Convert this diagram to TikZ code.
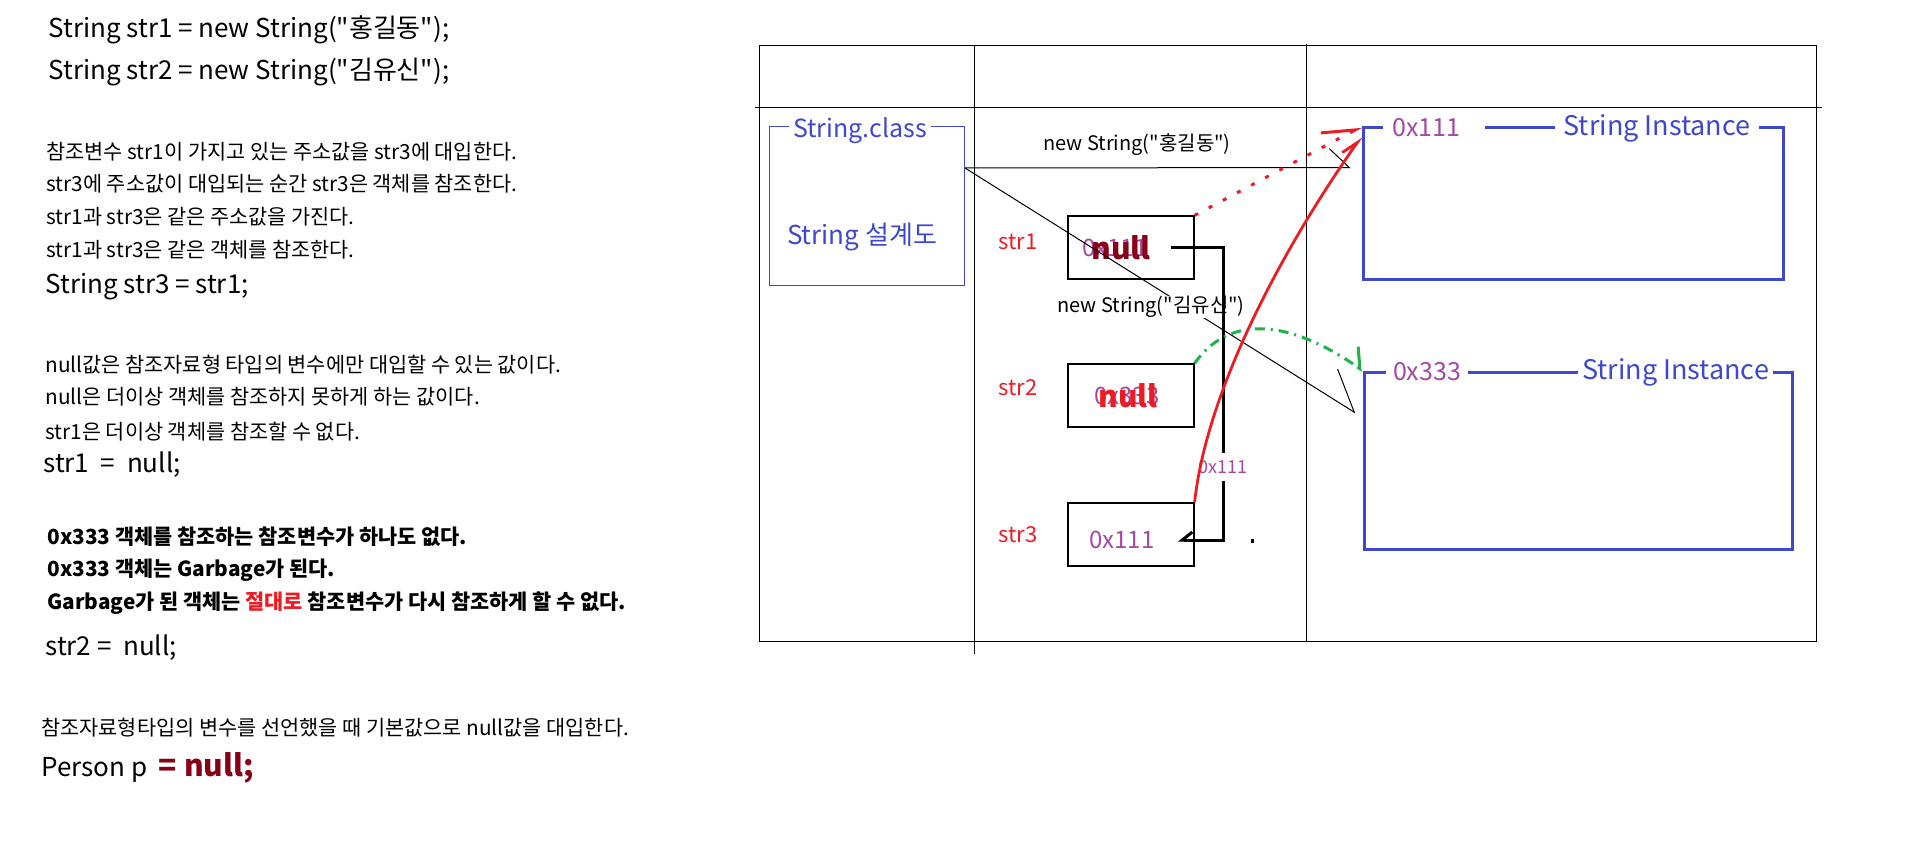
\documentclass[tikz,border=0pt]{standalone}
\usepackage{fontspec}
\setmainfont{Noto Sans CJK KR}[Ligatures=TeXOff]
\usetikzlibrary{arrows.meta,positioning}
\definecolor{pblue}{HTML}{3F48CC}
\definecolor{ppurple}{HTML}{A349A4}
\definecolor{pred}{HTML}{ED1C24}
\definecolor{pdark}{HTML}{880015}
\definecolor{pgreen}{HTML}{22B14C}
\newcommand{\fsz}[1]{\fontsize{#1}{#1}\selectfont}

\begin{document}
\begin{tikzpicture}[x=0.5pt,y=-0.5pt,node distance=74pt,inner sep=0pt,
	code/.style={anchor=west,font=\fsz{13}},
	note/.style={anchor=west,font=\fsz{10.4}},
	bnote/.style={anchor=west,font=\fsz{10.4}\bfseries},
	var/.style={draw,line width=0.6pt,minimum width=63pt,minimum height=31.5pt},
	varname/.style={text=pred,font=\fsz{11}},
	addr/.style={text=ppurple,font=\fsz{12}},
	nul/.style={font=\fsz{15}\bfseries},
	inst/.style={draw=pblue,line width=1.5pt},
	tag/.style={fill=white,font=\fsz{13.5}},
	call/.style={fill=white,font=\fsz{10}},
	thin/.style={line width=0.5pt}]

\useasboundingbox (0,0) rectangle (1906,856);

\node[code](c1) at (48,30){String str1 = new String("홍길동");};
\node[code](c2) at (48,72){String str2 = new String("김유신");};
\node[note](n1) at (46,152){참조변수 str1이 가지고 있는 주소값을 str3에 대입한다.};
\node[note](n2) at (46,184){str3에 주소값이 대입되는 순간 str3은 객체를 참조한다.};
\node[note](n3) at (46,217){str1과 str3은 같은 주소값을 가진다.};
\node[note](n4) at (46,250){str1과 str3은 같은 객체를 참조한다.};
\node[code](c3) at (45,287){String str3 = str1;};
\node[note](n5) at (45,365){null값은 참조자료형 타입의 변수에만 대입할 수 있는 값이다.};
\node[note](n6) at (45,397){null은 더이상 객체를 참조하지 못하게 하는 값이다.};
\node[note](n7) at (45,432){str1은 더이상 객체를 참조할 수 없다.};
\node[code](c4) at (43,465){str1\ \ =\ \ null;};
\node[bnote](g1) at (47,537){0x333 객체를 참조하는 참조변수가 하나도 없다.};
\node[bnote](g2) at (47,570){0x333 객체는 Garbage가 된다.};
\node[bnote](g3) at (47,603){Garbage가 된 객체는 \textcolor{pred}{절대로} 참조변수가 다시 참조하게 할 수 없다.};
\node[code](c5) at (45,648){str2\ =\ \ null;};
\node[note](n8) at (41,728){참조자료형타입의 변수를 선언했을 때 기본값으로 null값을 대입한다.};
\node[code](c6) at (41,768){Person p \ {\color{pdark}\fsz{15}\bfseries = null;}};

\draw[thin] (759,46) rectangle (1816,641);
\draw[thin] (755,108) -- (1822,108);
\draw[thin] (974,46) -- (974,654);
\draw[thin] (1306,44) -- (1306,641);

\node[draw=pblue,thin,minimum width=97.5pt,minimum height=79pt](cls) at (867,206){};
\node[tag,text=pblue,font=\fsz{12.5},inner xsep=2pt](clsname) at (860,131){String.class};
\node[text=pblue,font=\fsz{13}](clsdesc) at (862,237){String 설계도};

\node[var](s1) at (1131,247.5){};
\node[var](s2)[below of=s1]{};
\node[var](s3)[below of=s2,yshift=4.5pt]{};
\node[varname](v1) at (1018,242){str1};
\node[varname](v2) at (1018,388){str2};
\node[varname](v3) at (1018,535){str3};
\node[addr](a1) at ([xshift=-8pt]s1.center){0x111};
\node[nul,text=pdark](z1) at ([xshift=-5pt]s1.center){null};
\node[addr](a2) at ([xshift=-2pt]s2.center){0x333};
\node[nul,text=pred](z2) at ([xshift=-1.5pt]s2.center){null};
\node[addr](a3) at ([xshift=-4.5pt,yshift=-2.75pt]s3.center){0x111};

\node[inst,minimum width=210pt,minimum height=75.5pt](i1) at (1573,203.5){};
\node[inst,minimum width=214pt,minimum height=88.5pt](i2) at (1578,460.5){};
\node[tag,text=ppurple,font=\fsz{12.5},anchor=west,text width=42pt,inner xsep=4.5pt](i1addr) at (1383,128){0x111};
\node[tag,text=pblue,minimum width=102pt](i1name) at (1657,128){String Instance};
\node[tag,text=ppurple,font=\fsz{12.5},minimum width=41pt](i2addr) at (1427,372){0x333};
\node[tag,text=pblue,minimum width=97.5pt](i2name) at (1675.5,372){String Instance};

\coordinate (clsout) at ([yshift=19pt]cls.east);
\coordinate (i1in) at ([xshift=-5.5pt,yshift=18pt]i1.west);
\coordinate (i2in) at ([xshift=-3.5pt,yshift=23.75pt]i2.west);
\draw[thin,-{Straight Barb[harpoon,length=10pt,width=19pt]}] (clsout) -- (i1in);
\draw[thin,-{Straight Barb[harpoon,length=18.5pt,width=27.7pt]}] (clsout) -- (i2in);
\node[call](new1) at (1137,145){new String("홍길동")};
\node[call](new2) at (1151,307){new String("김유신")};

\draw[line width=1.5pt,-{Straight Barb[harpoon,swap,length=5pt,width=8pt]}] ([xshift=20pt]s1.center) -- ++(52,0)
	|- node[pos=0.375,fill=white,text=ppurple,font=\fsz{9},inner ysep=3.5pt](cp){0x111} ([xshift=23.5pt,yshift=-2.75pt]s3.center);
\fill (1251,539) rectangle (1254,543);

\draw[pgreen,line width=1.5pt,dash pattern=on 5pt off 3pt on 1pt off 3pt,-{Straight Barb[harpoon,length=7pt,width=17pt]}]
	(s2.north east) to[out=55,in=145,out distance=30pt,in distance=45pt] (i2.north west);
\draw[pred,line width=1.5pt,dash pattern=on 2pt off 6pt,-{Straight Barb[harpoon,length=15.7pt,width=13.4pt]}]
	(s1.north east) -- (i1.north west);
\draw[pred,line width=1.4pt,-{Straight Barb[harpoon,length=8.4pt,width=6.6pt]}]
	(s3.north east) to[out=84,in=235,out distance=51pt,in distance=79pt] ([yshift=-5pt]i1.north west);

\end{tikzpicture}
\end{document}
